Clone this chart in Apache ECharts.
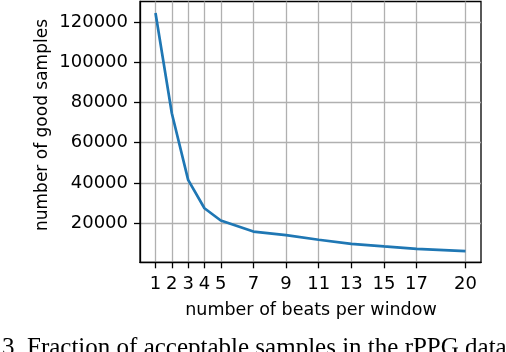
<!DOCTYPE html>
<html>
<head>
<meta charset="utf-8">
<script src="https://cdn.jsdelivr.net/npm/echarts@6/dist/echarts.min.js"></script>
<style>html,body{margin:0;padding:0;background:#fff;}#c{width:506px;height:352px;}</style>
</head>
<body>
<div id="c"></div>
<script>
const beats = [1, 2, 3, 4, 5, 7, 9, 11, 13, 15, 17, 20];
const goodSamples = [124500, 74600, 41500, 27400, 21300, 15800, 14000, 11700, 9700, 8400, 7200, 6100];
const xTicks = [1, 2, 3, 4, 5, 7, 9, 11, 13, 15, 17, 20];
const yTicks = [20000, 40000, 60000, 80000, 100000, 120000];
const xTitle = 'number of beats per window';
const yTitle = 'number of good samples';
const caption = '3. Fraction of acceptable samples in the rPPG data';

const chart = echarts.init(document.getElementById('c'), null, {renderer: 'canvas'});
const font = 'DejaVu Sans';
chart.setOption({
  animation: false,
  backgroundColor: '#fff',
  grid: {left: 140, right: 25, top: 1.5, bottom: 89.7, containLabel: false,
         show: true, borderColor: '#000', borderWidth: 1.3, backgroundColor: 'transparent'},
  xAxis: {
    type: 'value', min: 0.05, max: 20.95,
    axisLine: {show: true, onZero: false, lineStyle: {color: '#000', width: 1.3}},
    axisTick: {show: true, length: 6, lineStyle: {color: '#000', width: 1.3}, customValues: xTicks},
    axisLabel: {color: '#000', fontFamily: font, fontSize: 18, margin: 13, customValues: xTicks,
                formatter: v => String(v)},
    splitLine: {show: true, lineStyle: {color: '#b0b0b0', width: 1.3}}
  },
  yAxis: {
    type: 'value', min: 500, max: 130200,
    axisLine: {show: true, onZero: false, lineStyle: {color: '#000', width: 1.3}},
    axisTick: {show: true, length: 6, lineStyle: {color: '#000', width: 1.3}, customValues: yTicks},
    axisLabel: {color: '#000', fontFamily: font, fontSize: 18, margin: 12, customValues: yTicks,
                formatter: v => String(v)},
    splitLine: {show: true, lineStyle: {color: '#b0b0b0', width: 1.3}}
  },
  series: [{
    type: 'line',
    data: beats.map((b, i) => [b, goodSamples[i]]),
    showSymbol: false,
    lineStyle: {color: '#1f77b4', width: 2.7},
    z: 5
  }],
  graphic: [
    {type: 'text', position: [311, 301], style: {text: xTitle, font: '17.5px "DejaVu Sans"', fill: '#000', textAlign: 'center', textVerticalAlign: 'top'}},
    {type: 'text', rotation: Math.PI / 2, position: [43, 125], style: {text: yTitle, font: '17px "DejaVu Sans"', fill: '#000', textAlign: 'center', textVerticalAlign: 'middle'}},
    {type: 'text', position: [2, 348], style: {text: caption, font: '25px "Liberation Serif"', fill: '#000', textAlign: 'left', textVerticalAlign: 'middle'}}
  ]
});
</script>
</body>
</html>
